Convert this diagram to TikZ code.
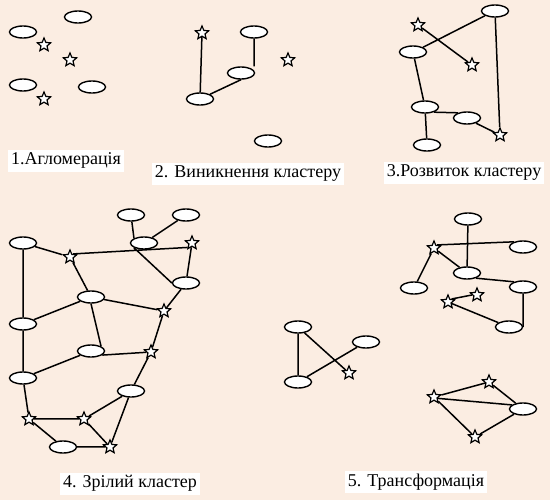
\documentclass[tikz,border=0pt]{standalone}
\usepackage{fontspec}
\setmainfont{Liberation Serif}
\usetikzlibrary{shapes.geometric}
\definecolor{bgpeach}{RGB}{251,237,226}
\tikzset{cell/.style={draw,ellipse,fill=white,line width=1.4pt,minimum width=27pt,minimum height=12pt,inner sep=0pt}}
\tikzstyle{firm}=[draw,star,star points=5,star point ratio=2.2,fill=white,line width=1.2pt,minimum size=14pt,inner sep=0pt]
\tikzstyle{caption}=[fill=white,inner xsep=3pt,inner ysep=3pt,text height=12pt,text depth=4pt,font=\fontsize{18}{20}\selectfont]

\begin{document}
\begin{tikzpicture}[x=1pt,y=-1pt,line width=1.5pt]
\fill[bgpeach] (0,0) rectangle (550,500);
\useasboundingbox (0,0) rectangle (550,500);
% 1. agglomeration
\node[cell] (A1) at (78,17) {};
\node[cell] (A2) at (23,32) {};
\node[firm] (A3) at (44,45) {};
\node[firm] (A4) at (70,60) {};
\node[cell] (A5) at (23,85) {};
\node[cell] (A6) at (92,87) {};
\node[firm] (A7) at (44,99) {};
\node[caption] (L1) at (66,161) {1.Агломерація};
% 2. emergence
\node[firm] (B1) at (202,33) {};
\node[cell] (B2) at (254,32) {};
\node[firm] (B3) at (288,60) {};
\node[cell] (B4) at (241,73) {};
\node[cell] (B5) at (200,99) {};
\node[cell] (B6) at (268,141) {};
\node[caption] (L2) at (248,174) {2. Виникнення кластеру};
\draw (B1) -- (B5)
	(B2) -- (B2 |- B4.north)
	(B5.north east) -- (B4.south);
% 3. development
\node[cell] (C1) at (495,11) {};
\node[firm] (C2) at (418,25) {};
\node[cell] (C3) at (413,52) {};
\node[firm] (C4) at (472,65) {};
\node[cell] (C5) at (425,107) {};
\node[cell] (C6) at (467,118) {};
\node[firm] (C7) at (500,135) {};
\node[cell] (C8) at (427,145) {};
\node[caption] (L3) at (464,173) {3.Розвиток кластеру};
\draw (C3.north east) -- (C1.south west)
	(C2) -- (C4)
	(C3) -- (C5)
	(C1) -- (C7)
	(C5) -- (C8)
	(C5.-30) -- (C6.150)
	(C6.-30) -- (C7);
% 4. mature cluster
\node[cell] (D1) at (131,215) {};
\node[cell] (D2) at (186,215) {};
\node[cell] (D3) at (23,243) {};
\node[cell] (D4) at (144,243) {};
\node[firm] (D5) at (192,243) {};
\node[firm] (D6) at (70,257) {};
\node[cell] (D7) at (186,283) {};
\node[cell] (D8) at (91,297) {};
\node[firm] (D9) at (164,311) {};
\node[cell] (D10) at (23,324) {};
\node[cell] (D11) at (91,351) {};
\node[firm] (D12) at (151,352) {};
\node[cell] (D13) at (23,378) {};
\node[cell] (D14) at (131,391) {};
\node[firm] (D15) at (29,419) {};
\node[firm] (D16) at (84,419) {};
\node[cell] (D17) at (63,447) {};
\node[firm] (D18) at (110,447) {};
\node[caption] (L4) at (130,484) {4. Зрілий кластер};
\draw (D1) -- (D4.north west)
	(D2) -- (D4)
	(D3) -- (D10)
	(D3) -- (D6)
	(D6.north east) -- (D5.south west)
	(D4.south west) -- (D7.west)
	(D5) -- (D7)
	(D6) -- (D8)
	(D7) -- (D9)
	(D8) -- (D9)
	(D8) -- (D10)
	(D8.south) -- (D11.north east)
	(D9) -- (D12)
	(D11.-20) -- (D12)
	(D10) -- (D13)
	(D11) -- (D13)
	(D12) -- (D14)
	(D13) -- (D15)
	(D15) -- (D16)
	(D16) -- (D18)
	(D16) -- (D14)
	(D14) -- (D18)
	(D15) -- (D17)
	(D17) -- (D18);
% 5. transformation
\node[cell] (E1) at (468,219) {};
\node[firm] (E2) at (434,248) {};
\node[cell] (E3) at (523,247) {};
\node[cell] (E4) at (467,273) {};
\node[cell] (E5) at (414,288) {};
\node[cell] (E6) at (523,287) {};
\node[firm] (E7) at (477,295) {};
\node[firm] (E8) at (448,302) {};
\node[cell] (E9) at (509,327) {};
\draw (E1) -- (E4)
	(E2.45) -- (E3.150)
	(E2) -- (E4)
	(E2) -- (E5)
	(E4.-30) -- (E6.150)
	(E8.40) -- (E7.180)
	(E8) -- (E9)
	(E6) -- (E9.east);
\node[cell] (F1) at (298,327) {};
\node[cell] (F2) at (366,342) {};
\node[cell] (F3) at (298,382) {};
\node[firm] (F4) at (349,373) {};
\draw (F1) -- (F3)
	(F1) -- (F4)
	(F3) -- (F2);
\node[firm] (G1) at (434,397) {};
\node[firm] (G2) at (489,382) {};
\node[cell] (G3) at (523,409) {};
\node[firm] (G4) at (475,437) {};
\draw (G1) -- (G2)
	(G1.-20) -- (G3.160)
	(G2) -- (G3)
	(G1) -- (G4)
	(G4) -- (G3);
\node[caption] (L5) at (416,482) {5. Трансформація};
\end{tikzpicture}
\end{document}
